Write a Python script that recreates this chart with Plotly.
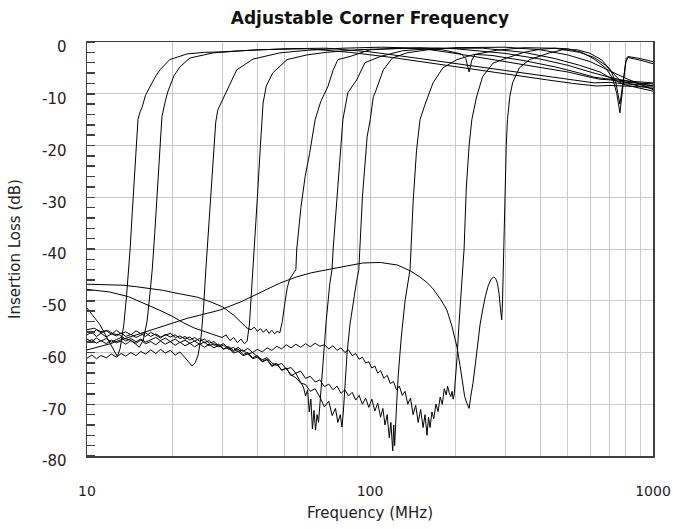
import plotly.graph_objects as go

# ---- data: (frequency MHz, insertion loss dB) ----
curve_14mhz = [(10, -51.4), (10.5, -52.8), (11.1, -54.6), (11.6, -56.5), (12.1, -58.3), (12.5, -59.8),
               (12.8, -60.8), (13.1, -59.2), (13.5, -54.5), (13.8, -49), (14.04, -44), (14.2, -40),
               (14.45, -33), (14.7, -26), (14.95, -20), (15.14, -15), (15.4, -13.5), (15.64, -12.7),
               (16.1, -10.3), (16.7, -8.6), (17.4, -6.8), (18.1, -5.4), (19.6, -3.4), (22.6, -2.3),
               (26, -2.0), (30.2, -1.9), (40, -1.5), (60, -1.3), (85, -2.0), (120, -3.0), (160, -4.0),
               (210, -5.0), (300, -6.2), (420, -7.3), (520, -8.0), (630, -8.5), (700, -8.4),
               (800, -8.5), (1000, -8.7)]

curve_17mhz = [(10, -55.6), (10.6, -55.3), (11.2, -56.0), (11.8, -55.7), (12.4, -56.4), (13.0, -56.6),
               (13.6, -57.3), (14.2, -57.6), (14.8, -58.3), (15.3, -59.0), (15.8, -57.6), (16.3, -54.0),
               (16.7, -48.5), (17.0, -44), (17.35, -37), (17.7, -29.5), (18.05, -22), (18.4, -14.4),
               (18.9, -11.5), (19.3, -9.6), (20.3, -6.5), (21.3, -4.8), (23.1, -3.1), (27.9, -2.1),
               (35, -1.7), (50, -1.3), (70, -1.2), (100, -1.9), (150, -3.2), (209, -4.3), (300, -5.5),
               (450, -6.8), (620, -7.9), (700, -7.8), (800, -8.1), (1000, -8.4)]

curve_27mhz = [(10, -61.1), (10.4, -60.5), (10.8, -61.2), (11.2, -60.6), (11.7, -61.0), (12.2, -60.3),
               (12.7, -60.9), (13.2, -60.2), (13.7, -60.7), (14.3, -60.0), (14.9, -60.6), (15.5, -59.8),
               (16.1, -60.3), (16.8, -59.5), (17.5, -60.2), (18.2, -59.4), (18.9, -60.1), (19.7, -59.6),
               (20.5, -60.5), (21.3, -59.9), (22.2, -61.0), (22.8, -61.8), (23.5, -62.6), (24.1, -62.0),
               (24.7, -60.5), (25.3, -57.0), (25.8, -51.5), (26.3, -44), (26.6, -40), (27.2, -31),
               (27.9, -21), (28.5, -15.5), (29.0, -13.1), (30.7, -10.2), (33.8, -5.4), (38.6, -3.3),
               (48, -2.1), (60, -1.6), (80, -1.2), (110, -1.0), (150, -1.2), (200, -2.2), (300, -3.8),
               (400, -5.0), (500, -5.8), (600, -6.8), (650, -7.2), (700, -7.3), (800, -7.8), (1000, -8.1)]

curve_39mhz = [(10, -47.8), (12, -48.3), (14, -49.2), (16, -50.5), (18, -51.8), (20, -53.0), (22, -54.3),
               (24, -55.3), (26, -56.0), (28, -56.6), (30, -57.1), (31, -56.6), (32, -57.7), (33, -57.1),
               (34, -58.1), (35, -57.4), (36, -58.3), (36.8, -57.8), (37.5, -54.5), (38.1, -48.5),
               (38.6, -44), (39.2, -38), (40, -30), (41, -20), (41.9, -11.8), (43, -8.5), (45.3, -6.0),
               (50.9, -3.4), (59.8, -2.5), (70, -2.0), (90, -1.5), (130, -1.2), (180, -1.5), (210, -2.3),
               (218, -3.2), (224, -5.8), (229, -3.5), (235, -2.4), (270, -2.6), (350, -3.6), (450, -4.8),
               (550, -6.0), (620, -6.8), (680, -7.1), (800, -7.5), (1000, -7.9)]

curve_55mhz = [(10, -46.8), (12, -46.9), (13.4, -47.0), (15, -47.3), (17, -47.7), (18.6, -48.0),
               (21, -48.6), (24.5, -49.3), (27, -50.1), (30.2, -51.2), (33, -52.8), (35, -54.2),
               (36.8, -55.3), (38, -55.6), (39, -55.1), (40, -55.9), (41, -55.4), (42, -56.1), (43, -55.5),
               (44, -56.3), (45, -55.7), (46, -56.4), (47, -55.9), (48, -56.2), (49, -54.0), (50, -50.5),
               (51, -47.5), (52, -45.8), (54.7, -44), (55.1, -40), (57, -32), (59, -26), (61.2, -21.5),
               (64, -15), (67, -11.5), (71, -8.6), (74, -5.5), (77, -3.4), (85, -2.8), (100, -1.5),
               (150, -1.1), (200, -1.3), (300, -2.2), (400, -3.3), (500, -4.5), (600, -5.8), (700, -6.8),
               (800, -7.5), (1000, -8.5)]

curve_74mhz = [(10, -55.9), (10.4, -56.3), (10.8, -55.6), (11.2, -56.2), (11.7, -55.8), (12.2, -56.5),
               (12.7, -55.7), (13.2, -56.4), (13.7, -56.0), (14.3, -56.6), (14.9, -55.8), (15.5, -56.3),
               (16.1, -56.9), (16.8, -56.1), (17.5, -56.7), (18.2, -57.2), (18.9, -56.5), (19.7, -57.0),
               (20.5, -56.6), (21.3, -57.3), (22.2, -56.9), (23.1, -57.6), (24, -57.1), (25, -57.8),
               (26, -57.4), (27, -58.2), (28.1, -57.9), (29.2, -58.7), (30.4, -58.3), (31.6, -59.2),
               (32.9, -59.8), (34.2, -59.3), (35.6, -60.4), (37, -60.0), (38.5, -61.0), (40, -60.6),
               (41.6, -61.7), (43.3, -61.3), (45, -62.5), (46.8, -62.1), (48.7, -63.4), (50.6, -63.0),
               (52.6, -64.5), (54.7, -64.0), (56.9, -65.8), (58.2, -66.7), (59.2, -68.4), (60.2, -67.2),
               (61, -71.5), (61.8, -69.0), (62.6, -74.8), (63.4, -71.2), (64.2, -75.0), (65, -72.0),
               (65.8, -73.5), (66.5, -70.0), (68, -62), (70, -54), (72, -47), (73.4, -44), (74.1, -40),
               (77, -28), (80.2, -15), (83.5, -9.8), (89.8, -7.3), (96, -4.0), (108.7, -2.8), (130, -1.7),
               (170, -1.2), (250, -1.2), (350, -2.0), (450, -3.2), (550, -4.5), (650, -5.8), (720, -7.2),
               (800, -8.3), (1000, -9.5)]

curve_91mhz = [(10, -56.6), (10.4, -56.1), (10.8, -56.9), (11.2, -56.3), (11.7, -57.0), (12.2, -56.4),
               (12.7, -56.8), (13.2, -56.2), (13.7, -56.9), (14.3, -56.5), (14.9, -57.1), (15.5, -56.6),
               (16.1, -56.2), (16.8, -56.9), (17.5, -56.4), (18.2, -57.0), (18.9, -56.7), (19.7, -56.3),
               (20.5, -57.1), (21.3, -56.8), (22.2, -57.4), (23.1, -57.0), (24, -57.8), (25, -57.3),
               (26, -58.1), (27, -57.7), (28.1, -58.6), (29.2, -58.4), (30.4, -59.3), (31.6, -59.0),
               (32.9, -60.1), (34.2, -59.8), (35.6, -60.6), (37, -60.3), (38.5, -61.2), (40, -60.9),
               (41.6, -61.8), (43.3, -61.4), (45, -62.7), (46.8, -62.2), (48.7, -63.4), (50.6, -63.1),
               (52.6, -64.3), (54.7, -64.9), (56.9, -65.9), (59.2, -66.2), (61.5, -67.5), (64, -67.0),
               (66.5, -68.6), (69, -70.5), (71.5, -69.4), (73.5, -72.2), (75.5, -70.8), (77, -73.5),
               (78.5, -72.0), (79.6, -74.4), (80.5, -71.5), (81.5, -66.0), (83, -60.0), (85, -54.5),
               (87.5, -49.5), (89.5, -46.5), (91.3, -44), (92.1, -40), (94, -30), (97.7, -18.3),
               (100.2, -15), (102.7, -10.6), (104.3, -9.8), (111.4, -5.4), (120, -3.1), (135, -2.1),
               (160, -1.5), (200, -1.1), (300, -1.0), (400, -1.5), (500, -2.5), (600, -3.8), (700, -5.5),
               (800, -7.0), (1000, -9.2)]

curve_139mhz = [(10, -57.4), (10.4, -57.9), (10.8, -57.2), (11.2, -57.8), (11.7, -57.3), (12.2, -58.0),
                (12.7, -57.5), (13.2, -57.1), (13.7, -57.8), (14.3, -57.3), (14.9, -57.9), (15.5, -57.4),
                (16.1, -58.0), (16.8, -57.5), (17.5, -57.1), (18.2, -57.7), (18.9, -57.2), (19.7, -57.9),
                (20.5, -57.4), (21.3, -58.1), (22.2, -57.6), (23.1, -58.2), (24, -57.8), (25, -58.4),
                (26, -58.0), (27, -58.7), (28.1, -58.3), (29.2, -58.9), (30.4, -58.6), (31.6, -59.4),
                (32.9, -59.0), (34.2, -59.8), (35.6, -59.5), (37, -60.3), (38.5, -60.0), (40, -60.8),
                (41.6, -61.4), (43.3, -61.0), (45, -62.0), (46.8, -62.5), (48.7, -62.1), (50.6, -63.2),
                (52.6, -62.9), (54.7, -64.0), (56.9, -63.6), (59.2, -65.0), (61.5, -64.6), (64, -65.7),
                (66.5, -65.3), (69, -66.6), (71.5, -66.1), (74, -67.2), (76.5, -66.5), (79, -67.9),
                (81.5, -67.2), (84, -68.4), (86.5, -67.7), (89, -69.2), (91.5, -68.3), (94, -70.0),
                (96.5, -68.8), (99, -70.6), (101.5, -69.0), (104, -71.3), (106.5, -69.8), (109, -72.5),
                (111, -70.8), (113, -74.0), (115, -72.0), (117, -76.5), (118.5, -73.5), (120.3, -79.0),
                (121.3, -74.0), (122.2, -78.0), (123.2, -72.0), (124.3, -69.5), (126, -64), (129, -57),
                (133, -50), (136.5, -45.5), (138.5, -44), (139.6, -40), (142, -31), (146, -21),
                (150.2, -15), (156.4, -12.1), (167, -7.9), (181, -5.0), (203, -3.4), (230, -2.5),
                (280, -1.6), (350, -1.1), (450, -1.2), (550, -2.0), (620, -3.0), (680, -4.5), (720, -6.0),
                (760, -7.3), (800, -7.8), (900, -8.6), (1000, -9.0)]

curve_215mhz = [(10, -58.0), (10.4, -57.5), (10.8, -58.2), (11.2, -57.7), (11.7, -58.3), (12.2, -57.6),
                (12.7, -58.1), (13.2, -57.8), (13.7, -58.4), (14.3, -57.7), (14.9, -58.2), (15.5, -57.6),
                (16.1, -58.3), (16.8, -57.9), (17.5, -58.5), (18.2, -57.8), (18.9, -58.4), (19.7, -57.9),
                (20.5, -58.6), (21.3, -58.0), (22.2, -58.7), (23.1, -58.2), (24, -58.9), (25, -58.3),
                (26, -59.0), (27, -58.4), (28.1, -59.1), (29.2, -58.6), (30.4, -59.4), (31.6, -58.8),
                (32.9, -59.6), (34.2, -59.0), (35.6, -59.8), (37, -59.2), (38.5, -60.0), (40, -59.4),
                (41.6, -59.9), (43.3, -59.1), (45, -59.6), (46.8, -58.8), (48.7, -59.3), (50.6, -58.5),
                (52.6, -59.1), (54.7, -58.4), (56.9, -59.0), (59.2, -58.3), (61.5, -58.9), (64, -58.2),
                (66.5, -58.8), (69, -58.5), (71.5, -59.3), (74, -58.7), (76.5, -59.6), (79, -59.1),
                (81.5, -60.0), (84, -59.5), (86.5, -60.6), (89, -60.2), (91.5, -61.3), (94, -60.9),
                (96.5, -62.0), (99, -61.8), (101.5, -63.0), (104, -62.6), (106.5, -64.0), (109, -63.5),
                (112, -65.0), (115, -64.4), (118, -66.0), (121, -65.6), (124, -67.2), (127, -66.5),
                (130, -68.3), (133, -67.5), (136, -70.0), (139, -68.8), (142, -72.0), (145, -70.2),
                (148, -73.5), (151, -71.0), (154, -74.5), (156.5, -72.0), (159, -76.0), (161, -72.5),
                (163, -74.5), (165.5, -71.5), (168, -72.8), (171, -70.0), (174, -71.4), (177, -68.6),
                (180, -70.0), (183, -67.0), (186, -68.2), (188, -66.5), (190.5, -67.8), (193, -68.5),
                (195, -67.5), (196.8, -69.0), (198.5, -68.0), (200, -66), (203, -61), (206, -55),
                (210, -48), (213, -42), (215, -40), (219, -28), (224, -20), (229, -15), (238, -10.6),
                (250, -6.7), (272, -4.1), (304, -3.1), (350, -2.0), (400, -1.4), (450, -1.2), (500, -1.3),
                (560, -2.0), (620, -3.3), (680, -5.0), (720, -7.0), (745, -10.0), (764, -13.7),
                (780, -9.0), (800, -4.0), (815, -3.0), (900, -3.5), (1000, -4.2)]

curve_297mhz = [(10, -59.5), (11.1, -58.9), (12.1, -58.3), (13.1, -57.6), (14.5, -56.8), (16.7, -55.8),
                (19.6, -54.5), (22.6, -53.4), (25, -52.8), (29.5, -51.8), (35, -50.2), (43.2, -47.9),
                (48, -46.6), (55, -45.4), (62, -44.6), (72.2, -43.9), (85, -43.1), (94.3, -42.7),
                (108.7, -42.6), (125, -43.1), (138.5, -44.2), (150, -45.4), (160, -46.6), (167, -47.7),
                (178, -49.8), (187, -51.8), (195, -55), (203, -59), (208, -62.5), (212, -65.5),
                (216, -68.5), (220, -69.8), (224, -70.8), (227, -68.5), (231, -66), (236, -62), (240, -58),
                (245, -54.5), (250, -51.8), (256, -49), (262, -47), (268, -45.8), (274, -45.4),
                (278, -45.7), (282, -46.6), (286, -48.8), (289, -51.5), (292, -53.7), (294, -50),
                (295.5, -45), (297, -40), (300, -28), (303, -20), (306, -15), (312, -10.5), (319, -7.9),
                (337, -5.0), (366, -3.4), (431, -2.1), (480, -1.5), (540, -1.5), (600, -2.2), (660, -3.5),
                (710, -5.5), (740, -8.0), (764, -12.0), (785, -7.0), (805, -3.2), (815, -2.8), (900, -3.2),
                (1000, -3.8)]

curves = [curve_14mhz, curve_17mhz, curve_27mhz, curve_39mhz, curve_55mhz,
          curve_74mhz, curve_91mhz, curve_139mhz, curve_215mhz, curve_297mhz]

x_ticks = [10, 100, 1000]
x_minor = [20, 30, 40, 50, 60, 70, 80, 90, 200, 300, 400, 500, 600, 700, 800, 900]
y_ticks = [0, -10, -20, -30, -40, -50, -60, -70, -80]

FONT = "DejaVu Sans"
GRID = "#c8c8c8"
FRAME = "#404040"
TXT = "#222"

W, H = 673, 529

fig = go.Figure()
for c in curves:
    fig.add_trace(go.Scatter(x=[p[0] for p in c], y=[p[1] for p in c], mode="lines",
                             line=dict(color="black", width=1), showlegend=False,
                             hoverinfo="skip"))

fig.update_layout(
    width=W, height=H, autosize=False,
    margin=dict(l=87, r=20, t=42, b=73, autoexpand=False),
    paper_bgcolor="white", plot_bgcolor="white",
    font=dict(family=FONT, size=15, color=TXT),
    title=dict(text="<b>Adjustable Corner Frequency</b>", x=0.5, xref="paper", xanchor="center",
               y=1 - 18 / H, yref="container", yanchor="middle",
               font=dict(family=FONT, size=17, color="#111")),
)
fig.update_xaxes(
    type="log", range=[1, 3], tickvals=x_ticks, ticktext=[str(v) for v in x_ticks],
    showgrid=True, gridcolor=GRID, gridwidth=1, ticks="",
    minor=dict(tickvals=x_minor, showgrid=True, gridcolor=GRID, gridwidth=1, ticks=""),
    showline=True, linecolor=FRAME, linewidth=1.5, mirror=True, zeroline=False,
    automargin=False, ticklabelstandoff=22, tickfont=dict(size=14, color=TXT),
    title=dict(text="Frequency (MHz)", standoff=9, font=dict(size=15, color=TXT)),
)
fig.update_yaxes(
    range=[-80, 0], tickvals=y_ticks, ticktext=[str(v) for v in y_ticks],
    showgrid=True, gridcolor=GRID, gridwidth=1, ticks="",
    minor=dict(dtick=2, ticks="inside", ticklen=8, tickwidth=1.5, tickcolor=FRAME, showgrid=False),
    showline=True, linecolor=FRAME, linewidth=1.5, mirror=True, zeroline=False,
    automargin=False, ticklabelstandoff=16, ticklabelshift=5, tickfont=dict(size=15, color=TXT),
    title=dict(text="Insertion Loss (dB)", standoff=18, font=dict(size=15, color=TXT)),
)

# remove the browser's default body margin so the figure fills the window exactly
fig.write_html("out.html",
               config={"displayModeBar": False, "staticPlot": True},
               post_script="document.body.style.margin='0px';document.body.style.overflow='hidden';")
